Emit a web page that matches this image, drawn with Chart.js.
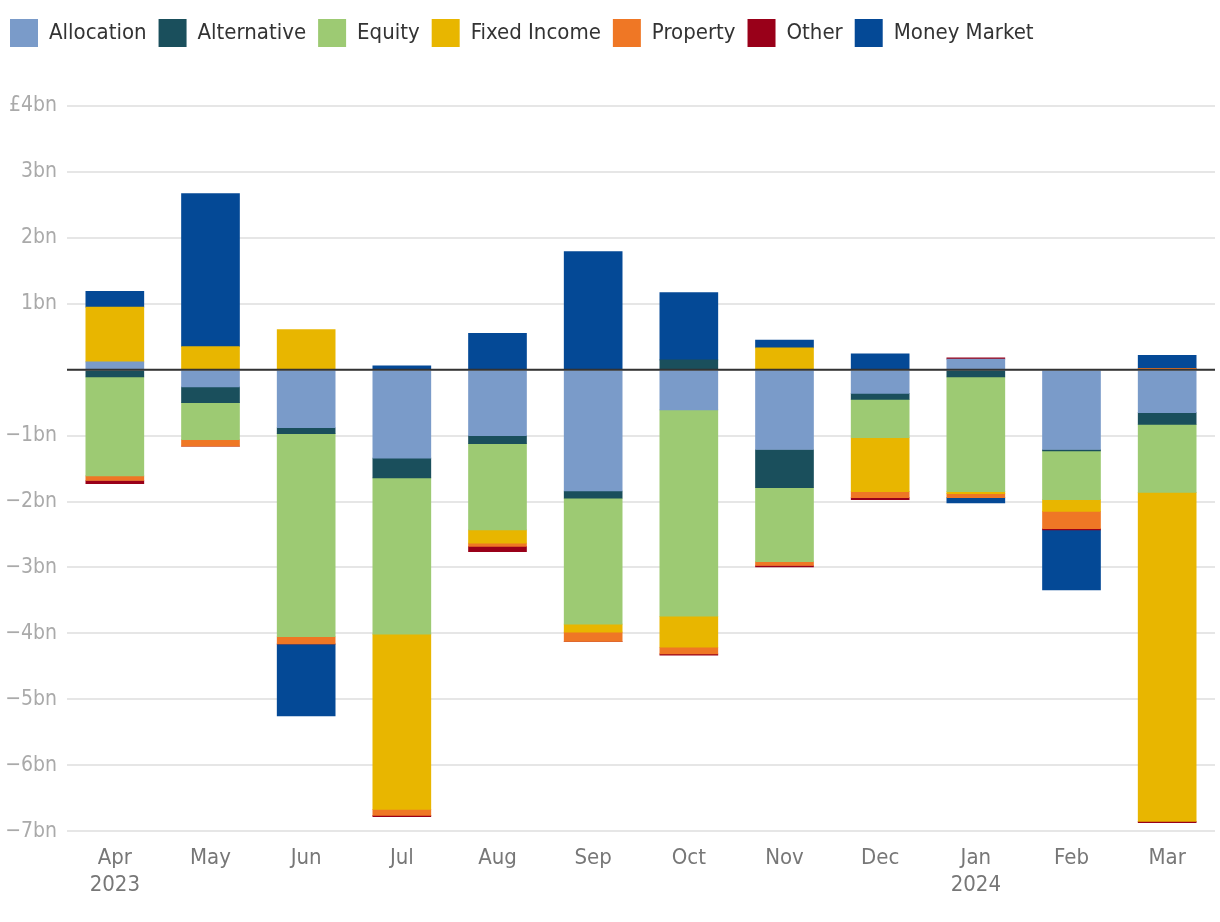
<!DOCTYPE html>
<html>
<head>
<meta charset="utf-8">
<script src="https://cdn.jsdelivr.net/npm/chart.js@4.4.1/dist/chart.umd.min.js"></script>
<style>
  html, body { margin: 0; padding: 0; background: #fff; }
  #wrap { width: 1220px; height: 922px; }
</style>
</head>
<body>
<div id="wrap"><canvas id="flows"></canvas></div>
<script>
// monthly estimated net flows, £bn
var months = [['Apr', '2023'], 'May', 'Jun', 'Jul', 'Aug', 'Sep', 'Oct', 'Nov', 'Dec', ['Jan', '2024'], 'Feb', 'Mar'];

var allocation  = [0.12, -0.26, -0.88, -1.34, -1.00, -1.84, -0.61, -1.21, -0.36, 0.16, -1.21, -0.65];
var alternative = [-0.11, -0.24, -0.09, -0.30, -0.12, -0.11, 0.15, -0.58, -0.09, -0.11, -0.02, -0.18];
var equity      = [-1.50, -0.56, -3.08, -2.37, -1.31, -1.91, -3.13, -1.12, -0.58, -1.74, -0.74, -1.03];
var fixedIncome = [0.83, 0.35, 0.61, -2.66, -0.20, -0.12, -0.47, 0.33, -0.82, -0.03, -0.18, -4.99];
var property    = [-0.07, -0.10, -0.11, -0.09, -0.05, -0.14, -0.10, -0.06, -0.09, -0.06, -0.26, 0.02];
var other       = [-0.05, 0, 0, -0.02, -0.08, 0, -0.02, -0.02, -0.03, 0.02, -0.02, -0.02];
var moneyMarket = [0.24, 2.32, -1.09, 0.06, 0.55, 1.79, 1.02, 0.12, 0.24, -0.08, -0.91, 0.20];

var yTicks = [4, 3, 2, 1, 0, -1, -2, -3, -4, -5, -6, -7];

var FONT = "'DejaVu Sans Condensed', 'Liberation Sans Narrow', sans-serif";

function ds(label, data, color) {
	return {
		label: label,
		data: data,
		backgroundColor: color,
		borderWidth: 0,
		barThickness: 58
	};
}

// zero line goes over the bars
var zeroLine = {
	id: 'zeroLine',
	afterDatasetsDraw: function(chart) {
		var y = chart.scales.y.getPixelForValue(0);
		var a = chart.chartArea;
		var ctx = chart.ctx;
		ctx.save();
		ctx.strokeStyle = '#333';
		ctx.lineWidth = 2;
		ctx.beginPath();
		ctx.moveTo(a.left, y);
		ctx.lineTo(a.right, y);
		ctx.stroke();
		ctx.restore();
	}
};

// more room under the legend, and pull it to the left edge
var legendSpace = {
	id: 'legendSpace',
	beforeInit: function(chart) {
		var fit = chart.legend.fit;
		chart.legend.fit = function() {
			fit.bind(chart.legend)();
			this.height += 49;
		};
	},
	beforeDraw: function(chart) {
		chart.legend.left = -2;
	}
};

new Chart(document.getElementById('flows'), {
	type: 'bar',
	data: {
		labels: months,
		datasets: [
			ds('Allocation', allocation, '#7a9bc9'),
			ds('Alternative', alternative, '#1a4f5c'),
			ds('Equity', equity, '#9dca73'),
			ds('Fixed Income', fixedIncome, '#e8b600'),
			ds('Property', property, '#ef7725'),
			ds('Other', other, '#990019'),
			ds('Money Market', moneyMarket, '#044996')
		]
	},
	plugins: [zeroLine, legendSpace],
	options: {
		responsive: true,
		maintainAspectRatio: false,
		animation: false,
		layout: { padding: { left: 0, right: 5, top: 7, bottom: 10 } },
		plugins: {
			tooltip: { enabled: false },
			legend: {
				position: 'top',
				align: 'start',
				labels: {
					boxWidth: 28,
					boxHeight: 28,
					padding: 12,
					color: '#333',
					font: { family: FONT, size: 22 }
				}
			}
		},
		scales: {
			x: {
				stacked: true,
				border: { display: false },
				grid: { display: false, drawTicks: false },
				ticks: {
					color: '#777',
					padding: 14,
					maxRotation: 0,
					font: { family: FONT, size: 22 }
				}
			},
			y: {
				stacked: true,
				min: -7,
				max: 4,
				border: { display: false },
				grid: {
					color: '#e6e6e6',
					lineWidth: 2,
					drawTicks: false
				},
				afterBuildTicks: function(axis) {
					axis.ticks = yTicks.map(function(v) { return { value: v }; });
				},
				afterFit: function(axis) {
					axis.width = 67;
				},
				ticks: {
					color: '#aaa',
					padding: 10,
					font: { family: FONT, size: 21 },
					callback: function(v) {
						if (v === 0) return '';
						if (v === 4) return '£4bn';
						if (v < 0) return '\u2212' + Math.abs(v) + 'bn';
						return v + 'bn';
					}
				}
			}
		}
	}
});
</script>
</body>
</html>
